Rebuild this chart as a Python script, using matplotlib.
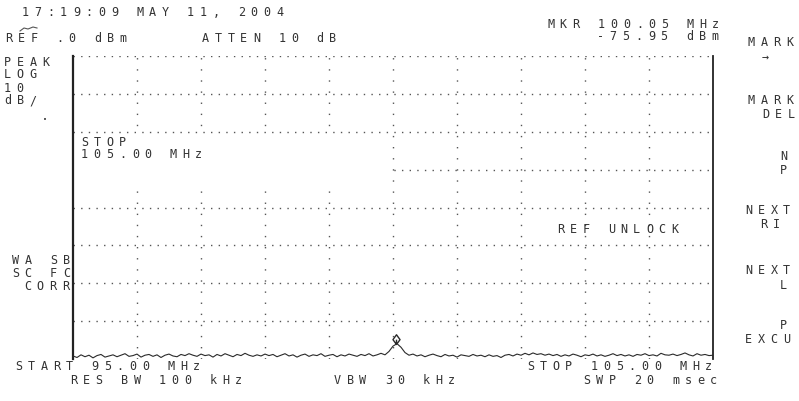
import matplotlib.pyplot as plt
import numpy as np
from matplotlib.patches import Rectangle
from matplotlib.path import Path
from matplotlib.lines import Line2D

W, H = 799, 402

freq_start, freq_stop = 95.0, 105.0
ref_level, db_per_div, n_div = 0.0, 10.0, 8
mkr_freq, mkr_level = 100.05, -75.95

# trace, 161 points across the sweep (dBm)
trace_db = [
    -79.2, -79.6, -78.9, -79.4, -79.0, -79.7, -79.1, -78.8, -79.5, -79.2,
    -78.9, -79.4, -79.0, -78.6, -79.3, -79.1, -78.7, -79.5, -79.0, -78.8,
    -79.3, -78.9, -79.6, -79.0, -78.7, -79.2, -79.4, -78.8, -79.1, -78.6,
    -79.0, -79.3, -78.7, -79.1, -78.9, -79.5, -78.8, -79.2, -78.6, -79.0,
    -79.4, -78.8, -79.1, -78.5, -79.0, -79.3, -78.9, -79.2, -78.7, -79.1,
    -78.8, -79.4, -79.0, -78.6, -79.2, -78.9, -79.5, -79.0, -78.7, -79.3,
    -78.9, -79.1, -78.6, -79.3, -79.0, -78.8, -79.4, -78.9, -79.2, -78.7,
    -79.0, -79.3, -78.8, -79.1, -78.6, -79.2, -78.9, -78.5, -78.9, -78.0,
    -76.6, -75.95, -76.9, -78.3, -79.0, -78.7, -79.2, -78.9, -79.4, -79.0,
    -78.7, -79.1, -79.4, -78.8, -79.2, -79.0, -79.5, -78.9, -79.1, -79.3,
    -78.8, -79.2, -79.0, -79.4, -78.9, -79.3, -79.1, -79.6, -79.0, -78.8,
    -79.2, -78.7, -79.0, -78.5, -78.9, -78.4, -78.8, -78.6, -79.0, -78.7,
    -79.1, -78.8, -79.3, -78.9, -79.2, -78.7, -79.0, -79.4, -78.9, -79.1,
    -78.7, -79.2, -78.9, -79.3, -79.0, -78.6, -79.1, -78.8, -79.2, -78.9,
    -79.3, -78.8, -79.0, -78.6, -79.1, -78.9, -79.2, -78.5, -78.9, -79.0,
    -78.7, -79.1, -78.8, -78.4, -78.9, -79.2, -78.6, -79.0, -78.8, -79.1,
    -79.0,
]
freqs = np.linspace(freq_start, freq_stop, len(trace_db))

# screen annotations: (x px, y px, text)
labels = [
    (22, 12, "17:19:09 MAY 11, 2004"),
    (5, 38, "REF .0 dBm"),
    (202, 38, "ATTEN 10 dB"),
    (547, 24, "MKR 100.05 MHz"),
    (597, 37, "-75.95 dBm"),
    (4, 62, "PEAK"),
    (4, 75, "LOG"),
    (4, 88, "10"),
    (4, 101, "dB/"),
    (12, 261, "WA SB"),
    (12, 274, "SC FC"),
    (24, 287, "CORR"),
    (15, 367, "START 95.00 MHz"),
    (70, 381, "RES BW 100 kHz"),
    (334, 381, "VBW 30 kHz"),
    (527, 367, "STOP 105.00 MHz"),
    (583, 381, "SWP 20 msec"),
    (81, 142, "STOP"),
    (81, 155, "105.00 MHz"),
    (557, 230, "REF UNLOCK"),
    # softkey column, only the part that fits on screen
    (748, 42, "MARK"),
    (762, 57, "\u2192"),
    (748, 101, "MARK"),
    (762, 115, "DEL"),
    (780, 157, "N"),
    (780, 171, "P"),
    (745, 211, "NEXT"),
    (760, 225, "RI"),
    (745, 271, "NEXT"),
    (780, 286, "L"),
    (780, 326, "P"),
    (745, 340, "EXCU"),
]

ink = "#333333"
fig = plt.figure(figsize=(W / 100, H / 100), dpi=100)
fig.patch.set_facecolor("white")

ax_l, ax_r, ax_t, ax_b = 73, 713, 57, 360
ax = fig.add_axes([ax_l / W, 1 - ax_b / H, (ax_r - ax_l) / W, (ax_b - ax_t) / H])
ax.set_xlim(freq_start, freq_stop)
ax.set_ylim(ref_level - n_div * db_per_div, ref_level)
ax.set_xticks([])
ax.set_yticks([])
for s in ("top", "bottom"):
    ax.spines[s].set_visible(False)
ax.spines["left"].set_linewidth(1.6)
ax.spines["left"].set_color("#222222")
ax.spines["right"].set_linewidth(1.3)
ax.spines["right"].set_color("#222222")

for k in range(n_div):
    lvl = ref_level - k * db_per_div
    ax.axhline(lvl, color="#555555", lw=1.0, ls=(0, (1, 4.5)), zorder=1)
for f in np.arange(freq_start + 1, freq_stop, 1.0):
    ax.axvline(f, color="#555555", lw=1.0, ls=(0, (1, 7)), zorder=1)

# the STOP entry box wipes part of the grid
ax.add_patch(Rectangle((freq_start + 0.02, -35.2), 4.93, 14.6, facecolor="white",
                       edgecolor="none", zorder=2))

ax.plot(freqs, trace_db, color="#2a2a2a", lw=0.8, zorder=3)

diamond = Path([(0, 0), (-0.8, 1.1), (0, 2.2), (0.8, 1.1), (0, 0), (0, 1.1)],
               [Path.MOVETO, Path.LINETO, Path.LINETO, Path.LINETO, Path.LINETO, Path.LINETO])
ax.plot([mkr_freq], [mkr_level], marker=diamond, markersize=14, mfc="none",
        mec="#2a2a2a", mew=1.0, zorder=4)


def put(x, y, s, pitch=12.7):
    for i, ch in enumerate(s):
        if ch == " ":
            continue
        fig.text((x + i * pitch) / W, 1 - y / H, ch, ha="left", va="center",
                 family="DejaVu Sans Mono", fontsize=8.5, color=ink, zorder=5)


for x, y, s in labels:
    put(x, y, s)
fig.text(45 / W, 1 - 120 / H, "\u2022", fontsize=5, color=ink, ha="center", va="center")

# small pen mark under the date
fig.add_artist(Line2D(np.array([20, 24, 28, 33, 37]) / W,
                      1 - np.array([32, 29, 30, 28, 29]) / H, color="#555555", lw=0.8))

fig.savefig("out.png", dpi=100, facecolor="white")
